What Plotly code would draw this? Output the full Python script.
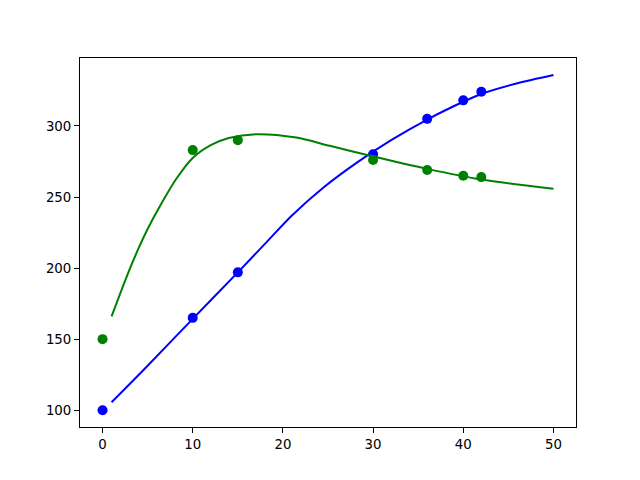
import plotly.graph_objects as go

# measured data points
pts_x = [0, 10, 15, 30, 36, 40, 42]
blue_pts = [100, 165, 197, 280, 305, 318, 324]
green_pts = [150, 283, 290, 276, 269, 265, 264]

# fitted curves
blue_curve_x = [1, 5, 10, 15, 18, 21, 24.5, 28.2, 32, 36, 40, 42, 46, 50]
blue_curve_y = [105.6, 131.3, 164.3, 197, 217, 237, 256.7, 274.2, 290, 304.5, 317, 322.5, 330, 335.8]
green_curve_x = [1, 2.8, 4, 5, 6.4, 8.2, 10, 12, 14, 17, 21.5, 25.2, 29.7, 36, 42, 50]
green_curve_y = [166, 196, 214, 227.5, 244, 263, 277.5, 286.5, 291.5, 294.2, 291.8, 286, 279, 269.8, 262.3, 255.8]

x_ticks = [0, 10, 20, 30, 40, 50]
y_ticks = [100, 150, 200, 250, 300]

fig = go.Figure()
fig.add_trace(go.Scatter(x=pts_x, y=blue_pts, mode="markers",
                         marker=dict(color="blue", size=10), showlegend=False))
fig.add_trace(go.Scatter(x=pts_x, y=green_pts, mode="markers",
                         marker=dict(color="green", size=10), showlegend=False))
fig.add_trace(go.Scatter(x=blue_curve_x, y=blue_curve_y, mode="lines",
                         line=dict(color="blue", width=2, shape="spline", smoothing=0.8),
                         showlegend=False))
fig.add_trace(go.Scatter(x=green_curve_x, y=green_curve_y, mode="lines",
                         line=dict(color="green", width=2, shape="spline", smoothing=0.8),
                         showlegend=False))

axis_common = dict(showgrid=False, zeroline=False, showline=True, linecolor="black",
                   linewidth=1, mirror=True, ticks="outside", ticklen=5, tickwidth=1,
                   tickcolor="black", tickfont=dict(family="DejaVu Sans", size=13.33, color="black"))
fig.update_xaxes(range=[-2.5, 52.5], tickvals=x_ticks, **axis_common)
fig.update_yaxes(range=[88.2, 347.8], tickvals=y_ticks, **axis_common)

fig.update_layout(width=640, height=480, paper_bgcolor="white", plot_bgcolor="white",
                  margin=dict(l=72, r=72, t=50, b=61), showlegend=False)
fig.write_html("out.html")
